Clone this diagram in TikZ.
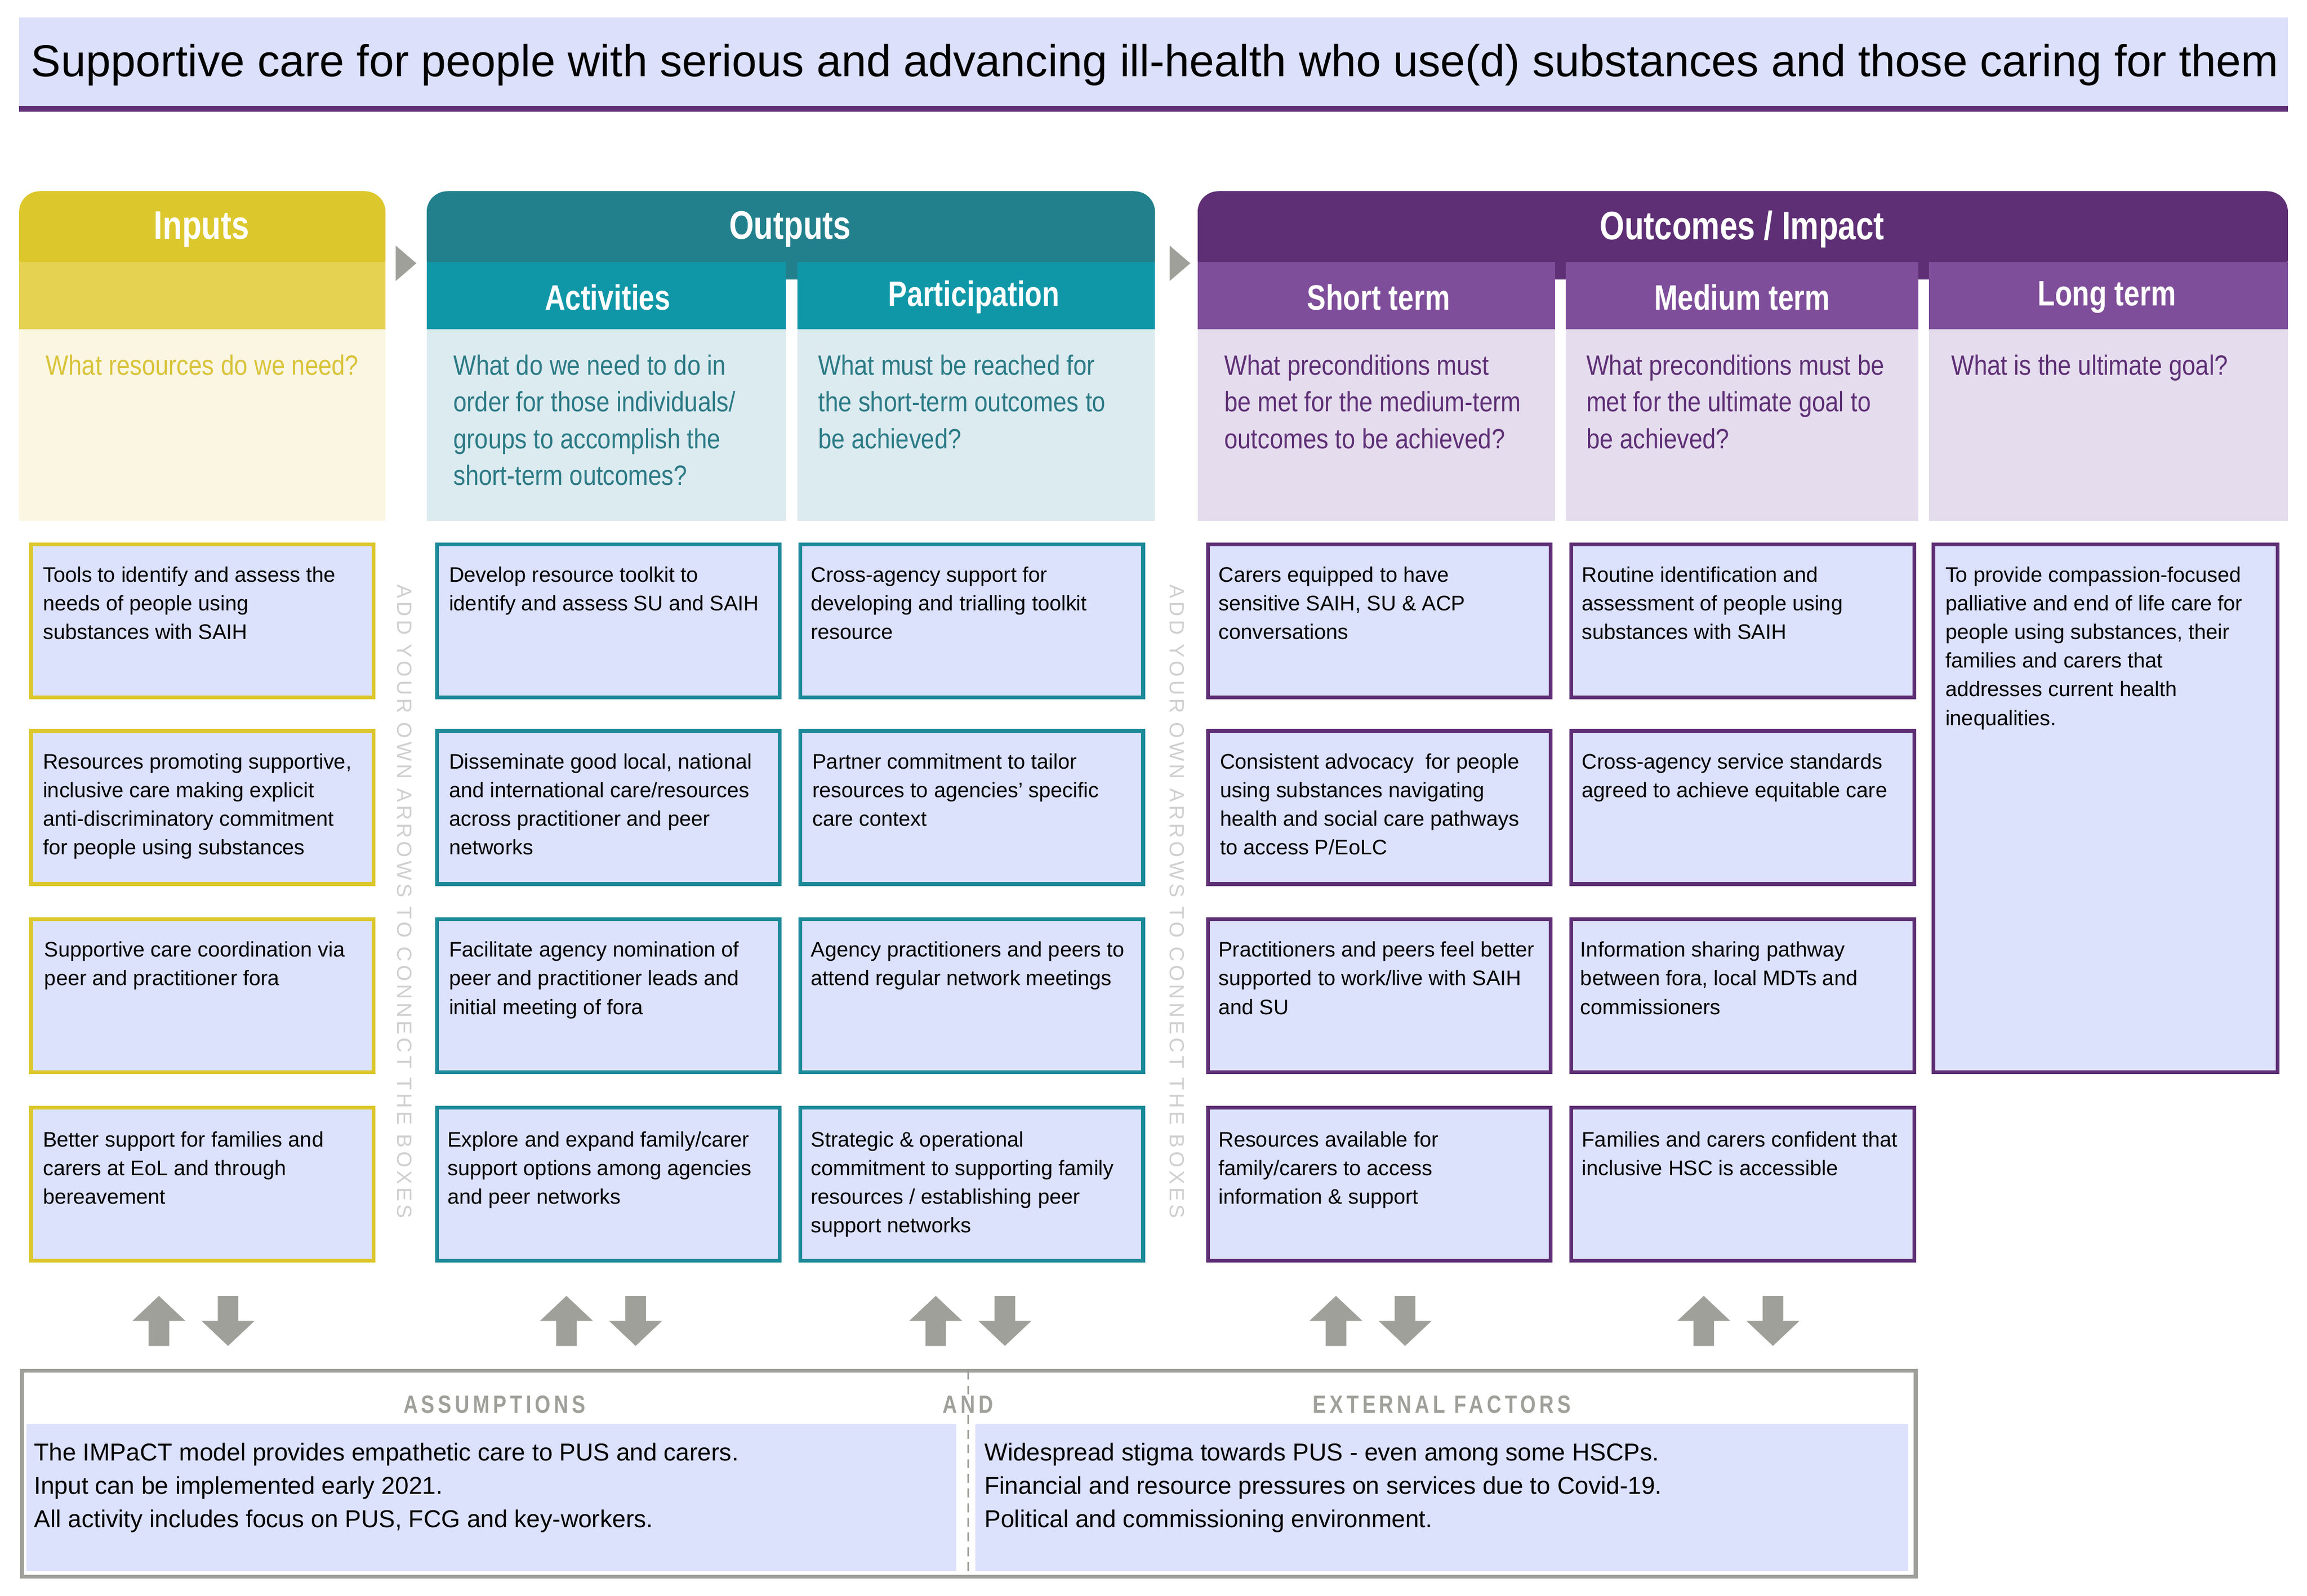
\documentclass[tikz,border=0pt]{standalone}
\usepackage{fontspec}
\setmainfont{Liberation Sans}
\newfontfamily\cond{Liberation Sans}[FakeStretch=0.86]
\newfontfamily\condh{Liberation Sans}[FakeStretch=0.8]
\usetikzlibrary{calc}
\definecolor{ttl}{HTML}{DCE0FA}
\definecolor{purp}{HTML}{5E2F75}
\definecolor{purs}{HTML}{7F4E9A}
\definecolor{purq}{HTML}{E5DDEE}
\definecolor{yel}{HTML}{DCC72C}
\definecolor{yels}{HTML}{E4D250}
\definecolor{yelq}{HTML}{FAF6E1}
\definecolor{yelt}{HTML}{D9C33A}
\definecolor{tea}{HTML}{22808C}
\definecolor{teas}{HTML}{0F97A8}
\definecolor{teaq}{HTML}{DCEBF0}
\definecolor{teat}{HTML}{2B7A85}
\definecolor{teab}{HTML}{1D8A99}
\definecolor{boxf}{HTML}{DCE1FC}
\definecolor{gr}{HTML}{A0A09A}
\definecolor{lg}{HTML}{CFCFCF}
\begin{document}
\begin{tikzpicture}[x=1pt,y=-1pt,
 hd/.style={font=\condh\bfseries\fontsize{27}{30}\selectfont,text=white},
 sh/.style={font=\condh\bfseries\fontsize{24}{26}\selectfont,text=white},
 q/.style={font=\cond\fontsize{19}{25}\selectfont,anchor=north west,align=left,inner sep=0},
 bx/.style={draw,line width=2.6pt,fill=boxf},
 bt/.style={font=\fontsize{14.3}{19.5}\selectfont,anchor=north west,align=left,inner sep=0},
 lab/.style={font=\condh\bfseries\fontsize{17}{18}\selectfont\addfontfeature{LetterSpace=14},text=gr},
 vt/.style={font=\fontsize{14}{14}\selectfont\addfontfeature{LetterSpace=16},text=lg,rotate=-90,inner sep=0}]
\useasboundingbox (0,0) rectangle (1568,1085);
% title
\fill[ttl] (13,12) rectangle (1555,72);
\fill[purp] (13,72) rectangle (1555,76);
\node[font=\fontsize{30.4}{32}\selectfont,inner sep=0] (title) at (785,44) {Supportive care for people with serious and advancing ill-health who use(d) substances and those caring for them};
% column headers
\fill[yel,rounded corners=14pt] (13,130) rectangle (262,190);
\fill[yels] (13,178) rectangle (262,224);
\fill[yelq] (13,224) rectangle (262,354);
\node[hd] (hin) at (137,156) {Inputs};
\node[q,text=yelt] (qin) at (31,241) {What resources do we need?};
\fill[tea,rounded corners=14pt] (290,130) rectangle (785,190);
\fill[teas] (290,178) rectangle (534,224);
\fill[teas] (542,178) rectangle (785,224);
\fill[teaq] (290,224) rectangle (534,354);
\fill[teaq] (542,224) rectangle (785,354);
\node[hd] (hout) at (537,156) {Outputs};
\node[sh] (hact) at (413,202) {Activities};
\node[sh] (hpar) at (662,202) {Participation};
\node[q,text=teat] (qact) at (308,241) {What do we need to do in\\order for those individuals/\\groups to accomplish the\\short-term outcomes?};
\node[q,text=teat] (qpar) at (556,241) {What must be reached for\\the short-term outcomes to\\be achieved?};
\fill[purp,rounded corners=14pt] (814,130) rectangle (1555,190);
\fill[purs] (814,178) rectangle (1057,224);
\fill[purs] (1064,178) rectangle (1304,224);
\fill[purs] (1311,178) rectangle (1555,224);
\fill[purq] (814,224) rectangle (1057,354);
\fill[purq] (1064,224) rectangle (1304,354);
\fill[purq] (1311,224) rectangle (1555,354);
\node[hd] (hoc) at (1184,156) {Outcomes / Impact};
\node[sh] (hs) at (937,202) {Short term};
\node[sh] (hm) at (1184,202) {Medium term};
\node[sh] (hl) at (1432,202) {Long term};
\node[q,text=purp] (qs) at (832,241) {What preconditions must\\be met for the medium-term\\outcomes to be achieved?};
\node[q,text=purp] (qm) at (1078,241) {What preconditions must be\\met for the ultimate goal to\\be achieved?};
\node[q,text=purp] (ql) at (1326,241) {What is the ultimate goal?};
% grey triangles
\fill[gr] (269,167) -- (283,179) -- (269,191) -- cycle;
\fill[gr] (795,167) -- (809,179) -- (795,191) -- cycle;
% vertical texts
\node[vt] (v1) at (275,613) {ADD YOUR OWN ARROWS TO CONNECT THE BOXES};
\node[vt] (v2) at (800,613) {ADD YOUR OWN ARROWS TO CONNECT THE BOXES};
% boxes
\foreach \x/\c in {21/yel,297/teab,544/teab,821/purp,1068/purp}{
 \foreach \y in {370,497,625,753}{
  \draw[bx,draw=\c] (\x,\y) rectangle ++(233,104);}}
\draw[bx,draw=purp] (1314,370) rectangle (1548,729);
\node[bt] (i1) at (29,385) {Tools to identify and assess the\\needs of people using\\substances with SAIH};
\node[bt] (i2) at (29,512) {Resources promoting supportive,\\inclusive care making explicit\\anti-discriminatory commitment\\for people using substances};
\node[bt] (i3) at (30,640) {Supportive care coordination via\\peer and practitioner fora};
\node[bt] (i4) at (29,769) {Better support for families and\\carers at EoL and through\\bereavement};
\node[bt] (a1) at (305,385) {Develop resource toolkit to\\identify and assess SU and SAIH};
\node[bt] (a2) at (305,512) {Disseminate good local, national\\and international care/resources\\across practitioner and peer\\networks};
\node[bt] (a3) at (305,640) {Facilitate agency nomination of\\peer and practitioner leads and\\initial meeting of fora};
\node[bt] (a4) at (304,769) {Explore and expand family/carer\\support options among agencies\\and peer networks};
\node[bt] (p1) at (551,385) {Cross-agency support for\\developing and trialling toolkit\\resource};
\node[bt] (p2) at (552,512) {Partner commitment to tailor\\resources to agencies' specific\\care context};
\node[bt] (p3) at (551,640) {Agency practitioners and peers to\\attend regular network meetings};
\node[bt] (p4) at (551,769) {Strategic \& operational\\commitment to supporting family\\resources / establishing peer\\support networks};
\node[bt] (s1) at (828,385) {Carers equipped to have\\sensitive SAIH, SU \& ACP\\conversations};
\node[bt] (s2) at (829,512) {Consistent advocacy\ \ for people\\using substances navigating\\health and social care pathways\\to access P/EoLC};
\node[bt] (s3) at (828,640) {Practitioners and peers feel better\\supported to work/live with SAIH\\and SU};
\node[bt] (s4) at (828,769) {Resources available for\\family/carers to access\\information \& support};
\node[bt] (m1) at (1075,385) {Routine identification and\\assessment of people using\\substances with SAIH};
\node[bt] (m2) at (1075,512) {Cross-agency service standards\\agreed to achieve equitable care};
\node[bt] (m3) at (1074,640) {Information sharing pathway\\between fora, local MDTs and\\commissioners};
\node[bt] (m4) at (1075,769) {Families and carers confident that\\inclusive HSC is accessible};
\node[bt] (l1) at (1322,385) {To provide compassion-focused\\palliative and end of life care for\\people using substances, their\\families and carers that\\addresses current health\\inequalities.};
% up/down arrows
\foreach \x in {108,385,636,908,1158}{
 \fill[gr] (\x-18,898) -- (\x,881) -- (\x+18,898) -- (\x+7,898) -- (\x+7,915) -- (\x-7,915) -- (\x-7,898) -- cycle;
 \fill[gr] (\x+29,898) -- (\x+47,915) -- (\x+65,898) -- (\x+54,898) -- (\x+54,881) -- (\x+40,881) -- (\x+40,898) -- cycle;}
% bottom box
\fill[boxf] (18,968) rectangle (650,1068);
\fill[boxf] (663,968) rectangle (1297,1068);
\draw[gr,line width=2.6pt] (15,932) rectangle (1302,1072);
\draw[gr,line width=1.2pt,dash pattern=on 6pt off 4pt] (658,932) -- (658,1072);
\node[lab] (as) at (336,955) {ASSUMPTIONS};
\node[lab,fill=white,inner sep=1pt] (and) at (658,955) {AND};
\node[lab] (ef) at (980,955) {EXTERNAL FACTORS};
\node[font=\fontsize{16.6}{22.6}\selectfont,anchor=north west,align=left,inner sep=0] (at) at (23,981) {The IMPaCT model provides empathetic care to PUS and carers.\\Input can be implemented early 2021.\\All activity includes focus on PUS, FCG and key-workers.};
\node[font=\fontsize{16.6}{22.6}\selectfont,anchor=north west,align=left,inner sep=0] (et) at (669,981) {Widespread stigma towards PUS - even among some HSCPs.\\Financial and resource pressures on services due to Covid-19.\\Political and commissioning environment.};
\end{tikzpicture}
\end{document}
